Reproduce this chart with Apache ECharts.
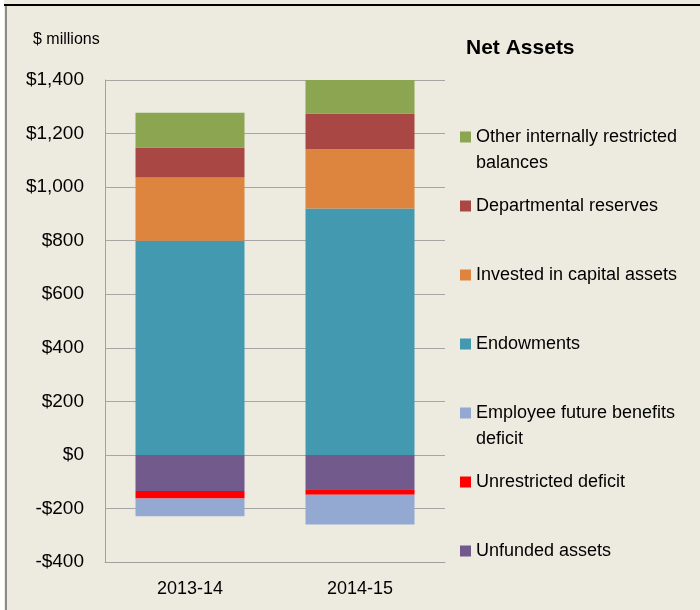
<!DOCTYPE html>
<html>
<head>
<meta charset="utf-8">
<script src="https://cdn.jsdelivr.net/npm/echarts@6/dist/echarts.min.js"></script>
<style>
  html, body { margin: 0; padding: 0; background: #edebe0; }
  #main { width: 700px; height: 610px; }
</style>
</head>
<body>
<div id="main"></div>
<script>
// data ($ millions)
var years = ['2013-14', '2014-15']
var unfundedAssets = [-135, -128]
var unrestrictedDeficit = [-28, -21]
var employeeBenefitsDeficit = [-66, -111]
var endowments = [800, 920]
var investedCapital = [236, 221]
var departmentalReserves = [112, 134]
var otherRestricted = [130, 125]

// legend wording with line breaks as drawn
var legendText = {
  'Other internally restricted balances': 'Other internally restricted\nbalances',
  'Employee future benefits deficit': 'Employee future benefits\ndeficit'
}

var font = 'Liberation Sans, Arial, sans-serif'

function bar(name, data, color) {
  return {
    name: name,
    type: 'bar',
    stack: 'total',
    data: data,
    barWidth: 109,
    itemStyle: { color: color },
    emphasis: { disabled: true }
  }
}

var myChart = echarts.init(document.getElementById('main'))
myChart.setOption({
  backgroundColor: '#edebe0',
  animation: false,
  textStyle: { fontFamily: font },
  title: [
    {
      text: 'Net Assets',
      left: 466,
      top: 36,
      padding: 0,
      textStyle: { fontSize: 21, fontWeight: 'bold', color: '#000', lineHeight: 24 }
    },
    {
      text: '$ millions',
      left: 33,
      top: 31,
      padding: 0,
      textStyle: { fontSize: 16, fontWeight: 'normal', color: '#000', lineHeight: 18 }
    }
  ],
  legend: {
    orient: 'vertical',
    left: 460,
    top: 98,
    padding: 0,
    itemWidth: 11,
    itemHeight: 11,
    itemGap: -9,
    icon: 'rect',
    selectedMode: false,
    textStyle: { fontSize: 18, color: '#000', lineHeight: 26 },
    // three lines each so the marker sits on the first printed line
    formatter: function (name) {
      var t = legendText[name]
      return t ? '\n' + t : '\n' + name + '\n'
    },
    data: [
      'Other internally restricted balances',
      'Departmental reserves',
      'Invested in capital assets',
      'Endowments',
      'Employee future benefits deficit',
      'Unrestricted deficit',
      'Unfunded assets'
    ]
  },
  grid: { left: 105, right: 255, top: 80, bottom: 48 },
  xAxis: {
    type: 'category',
    data: years,
    axisLine: { onZero: false, lineStyle: { color: '#a0a0a0', width: 1 } },
    axisTick: { show: false },
    axisLabel: { fontSize: 18, color: '#000', margin: 18 }
  },
  yAxis: {
    type: 'value',
    min: -400,
    max: 1400,
    interval: 200,
    axisLine: { show: true, lineStyle: { color: '#a0a0a0', width: 1 } },
    axisTick: { show: false },
    splitLine: { lineStyle: { color: '#a6a6a6', width: 1 } },
    axisLabel: {
      fontSize: 19,
      color: '#000',
      margin: 21,
      formatter: function (v) {
        var s = '$' + Math.abs(v).toLocaleString('en-US')
        return v < 0 ? '-' + s : s
      }
    }
  },
  series: [
    bar('Unfunded assets', unfundedAssets, '#725a8d'),
    bar('Unrestricted deficit', unrestrictedDeficit, '#ff0000'),
    bar('Employee future benefits deficit', employeeBenefitsDeficit, '#94a9d1'),
    bar('Endowments', endowments, '#4399b0'),
    bar('Invested in capital assets', investedCapital, '#dd843e'),
    bar('Departmental reserves', departmentalReserves, '#a94745'),
    bar('Other internally restricted balances', otherRestricted, '#8ca550')
  ],
  graphic: [
    // frame edges visible at the top and left of the picture
    { type: 'rect', left: 0, top: 0, shape: { width: 4, height: 610 }, style: { fill: '#ffffff' }, silent: true },
    { type: 'rect', left: 4, top: 4, shape: { width: 696, height: 2 }, style: { fill: '#000000' }, silent: true },
    { type: 'rect', left: 5, top: 6, shape: { width: 2, height: 604 }, style: { fill: '#8c8c8c' }, silent: true }
  ]
})
</script>
</body>
</html>
